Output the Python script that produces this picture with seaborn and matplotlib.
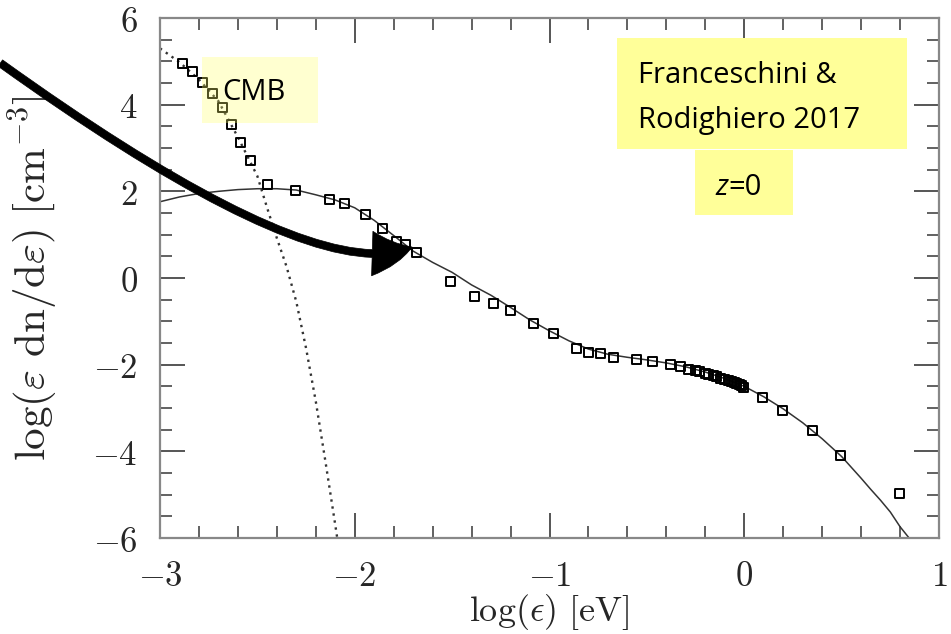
import numpy as np
import pandas as pd
import matplotlib
matplotlib.use("Agg")
import matplotlib.pyplot as plt
import seaborn as sns
from matplotlib.patches import Rectangle, FancyArrowPatch
from matplotlib.path import Path
from matplotlib.ticker import MultipleLocator, FuncFormatter

# ---------------- data ----------------
data_x = [-2.886, -2.834, -2.783, -2.731, -2.680, -2.632, -2.589, -2.534, -2.449, -2.303,
          -2.132, -2.055, -1.947, -1.858, -1.785, -1.738, -1.682, -1.507, -1.383, -1.285,
          -1.199, -1.083, -0.980, -0.860, -0.801, -0.736, -0.672, -0.552, -0.472, -0.381,
          -0.326, -0.287, -0.250, -0.232, -0.200, -0.184, -0.160, -0.141, -0.120, -0.099,
          -0.080, -0.064, -0.050, -0.039, -0.025, -0.013, -0.005, 0.095, 0.196, 0.351,
          0.495, 0.795]
data_y = [4.94, 4.76, 4.51, 4.26, 3.93, 3.55, 3.12, 2.71, 2.15, 2.01,
          1.82, 1.71, 1.47, 1.15, 0.85, 0.78, 0.58, -0.07, -0.43, -0.58,
          -0.74, -1.06, -1.29, -1.62, -1.72, -1.74, -1.83, -1.89, -1.93, -1.99,
          -2.05, -2.11, -2.14, -2.16, -2.20, -2.22, -2.25, -2.28, -2.31, -2.34,
          -2.37, -2.39, -2.41, -2.43, -2.46, -2.49, -2.52, -2.76, -3.05, -3.51,
          -4.09, -4.97]

model_x = [-3.0, -2.9, -2.8, -2.7, -2.6, -2.5, -2.4, -2.3, -2.2, -2.1, -2.0, -1.9, -1.8,
           -1.7, -1.6, -1.5, -1.4, -1.3, -1.2, -1.1, -1.0, -0.9, -0.8, -0.7, -0.6, -0.5,
           -0.4, -0.3, -0.2, -0.1, 0.0, 0.1, 0.2, 0.3, 0.4, 0.5, 0.6, 0.65, 0.7, 0.75,
           0.8, 0.85]
model_y = [1.76, 1.87, 1.95, 2.00, 2.04, 2.06, 2.06, 2.03, 1.92, 1.80, 1.62, 1.33, 0.98,
           0.62, 0.36, 0.13, -0.16, -0.40, -0.68, -0.97, -1.22, -1.45, -1.64, -1.76, -1.83,
           -1.89, -1.96, -2.05, -2.17, -2.32, -2.50, -2.74, -3.02, -3.34, -3.71, -4.12,
           -4.62, -4.88, -5.13, -5.40, -5.74, -6.02]

cmb_x = [-3.0, -2.9, -2.8, -2.7, -2.6, -2.5, -2.45, -2.4, -2.35, -2.3, -2.25, -2.2,
         -2.15, -2.1, -2.09]
cmb_y = [5.30, 4.98, 4.58, 4.08, 3.25, 2.35, 1.62, 0.92, 0.26, -0.55, -1.62, -2.85,
         -4.25, -5.70, -6.0]

x_ticks = [-3, -2, -1, 0, 1]
y_ticks = [-6, -4, -2, 0, 2, 4, 6]

label_cmb = "CMB"
label_ref = ["Franceschini &", "Rodighiero 2017"]

# ---------------- style ----------------
sns.set_theme(style="white")
plt.rcParams["mathtext.fontset"] = "cm"
plt.rcParams["font.family"] = ["DejaVu Sans"]

fig = plt.figure(figsize=(9.51, 6.34), dpi=100)
ax = fig.add_axes([160 / 951, 96 / 634, 779 / 951, 520 / 634])

df_pts = pd.DataFrame({"x": data_x, "y": data_y})
df_mod = pd.DataFrame({"x": model_x, "y": model_y})
df_cmb = pd.DataFrame({"x": cmb_x, "y": cmb_y})

sns.lineplot(data=df_mod, x="x", y="y", ax=ax, sort=False, estimator=None,
             color="#333333", linewidth=1.1, zorder=2)
sns.lineplot(data=df_cmb, x="x", y="y", ax=ax, sort=False, estimator=None,
             color="#333333", linewidth=1.7, linestyle=(0, (1, 2.0)), zorder=2)
sns.scatterplot(data=df_pts, x="x", y="y", ax=ax, marker="s", s=42,
                facecolor="none", edgecolor="black", linewidth=1.4, zorder=3)

ax.set_xlim(-3, 1)
ax.set_ylim(-6, 6)
ax.set_xticks(x_ticks)
ax.set_yticks(y_ticks)
ax.xaxis.set_minor_locator(MultipleLocator(0.2))
ax.yaxis.set_minor_locator(MultipleLocator(0.5))
fmt = FuncFormatter(lambda v, p: r"$%d$" % int(round(v)))
ax.xaxis.set_major_formatter(fmt)
ax.yaxis.set_major_formatter(fmt)

ax.tick_params(which="both", direction="in", top=True, right=True,
               bottom=True, left=True, color="#555555")
ax.tick_params(which="major", length=18, width=1.4, labelsize=25, pad=16)
ax.tick_params(which="minor", length=8.5, width=1.3)
ax.tick_params(axis="x", which="major", pad=15)
for sp in ax.spines.values():
    sp.set_color("#888888")
    sp.set_linewidth(1.6)

ax.set_xlabel(r"$\log(\epsilon)\ [\mathrm{eV}]$", fontsize=26)
ax.set_ylabel(r"$\log(\varepsilon\ \mathrm{dn/d}\varepsilon)\ [\mathrm{cm}^{-3}]$", fontsize=31)
ax.xaxis.set_label_coords(0.5, -0.104)
ax.yaxis.label.set_va("center")
ax.yaxis.set_label_coords(-0.163, 0.5)

# ---------------- annotation boxes ----------------
box_font = "Open Sans"
ax.add_patch(Rectangle((-2.784, 3.58), 0.596, 1.52, facecolor="#FFFF66", alpha=0.3,
                       edgecolor="none", zorder=4))
ax.text(-2.682, 4.11, label_cmb, fontsize=21, family=box_font, color="black",
        va="baseline", ha="left", zorder=5)

ax.add_patch(Rectangle((-0.653, 2.98), 1.489, 2.56, facecolor="#FFFF99",
                       edgecolor="none", zorder=4, clip_on=False))
ax.text(-0.546, 4.50, label_ref[0], fontsize=21, family=box_font, color="black",
        va="baseline", ha="left", zorder=5)
ax.text(-0.546, 3.46, label_ref[1], fontsize=21, family=box_font, color="black",
        va="baseline", ha="left", zorder=5)

ax.add_patch(Rectangle((-0.253, 1.45), 0.503, 1.50, facecolor="#FFFF99",
                       edgecolor="none", zorder=4))
ztxt = ax.text(-0.150, 1.92, "z", fontsize=21, family=box_font, style="italic",
               color="black", va="baseline", ha="left", zorder=5)
ax.annotate("=0", xy=(1.0, 0.0), xycoords=ztxt, fontsize=21, family=box_font,
            color="black", va="bottom", ha="left", zorder=5)

# ---------------- curved arrow ----------------
arrow_path = Path([(-3.82, 4.96), (-2.204, -0.254), (-1.706, 0.715)],
                  [Path.MOVETO, Path.CURVE3, Path.CURVE3])
arrow = FancyArrowPatch(path=arrow_path,
                        arrowstyle="simple,head_length=1.45,head_width=1.6,tail_width=0.28",
                        mutation_scale=20, facecolor="black", edgecolor="black",
                        linewidth=0.5, transform=ax.transData, clip_on=False, zorder=10)
ax.add_patch(arrow)

fig.savefig("out.png", dpi=100)
